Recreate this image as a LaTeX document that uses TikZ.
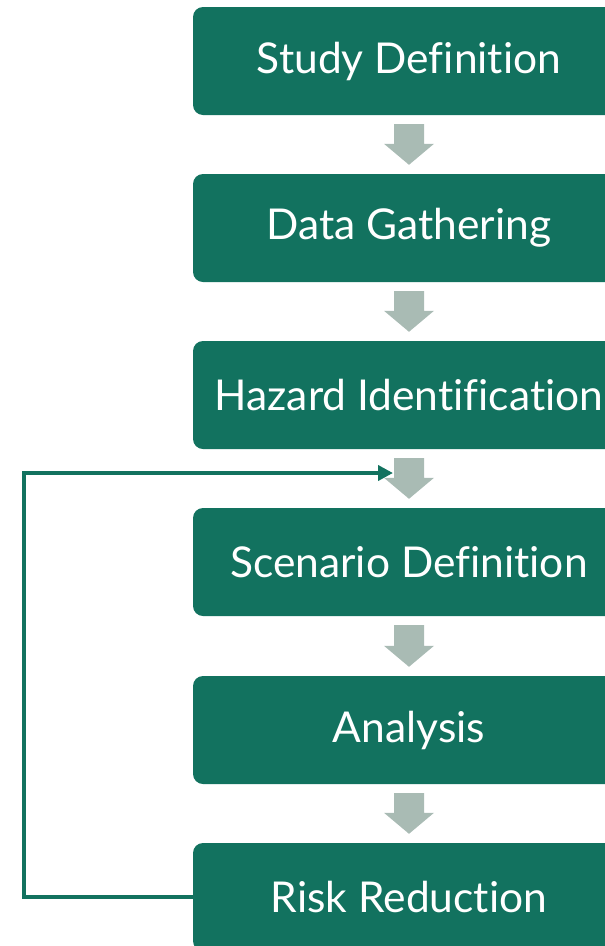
\documentclass[tikz,border=0pt]{standalone}
\usepackage{fontspec}
\setmainfont{Lato}[Ligatures=NoCommon]
\usetikzlibrary{calc,arrows.meta}
\definecolor{boxgreen}{HTML}{12725F}
\definecolor{arrowgray}{HTML}{A9BBB4}
\tikzset{
  stagebox/.style={fill=boxgreen, rounded corners=10pt, minimum width=432pt, minimum height=108pt, inner sep=0pt, text=white, font=\fontsize{42.5}{50}\selectfont},
  feedback/.style={draw=boxgreen, line width=4pt, -{Triangle[length=15pt,width=15pt]}},
  blockarrow/.style={fill=arrowgray}
}
\newcommand\blockarr[2]{%
  \fill[blockarrow] ($(#1.south)+(-15,9)$) -- ($(#1.south)+(15,9)$)
    -- ($(#2.north)+(15,-30)$) -- ($(#2.north)+(25,-30)$) -- ($(#2.north)+(0,-9)$)
    -- ($(#2.north)+(-25,-30)$) -- ($(#2.north)+(-15,-30)$) -- cycle;}
\begin{document}
\begin{tikzpicture}[x=1pt,y=-1pt]
\clip (0,0) rectangle (605,946);
\useasboundingbox (0,0) rectangle (605,946);
\node[stagebox] (s1) at (409,61) {Study Definition};
\node[stagebox] (s2) at (409,228) {Data Gathering};
\node[stagebox] (s3) at (409,395) {Hazard Identification};
\node[stagebox] (s4) at (409,562) {Scenario Definition};
\node[stagebox] (s5) at (409,730) {Analysis};
\node[stagebox] (s6) at (409,897) {Risk Reduction};
\blockarr{s1}{s2}
\blockarr{s2}{s3}
\blockarr{s3}{s4}
\blockarr{s4}{s5}
\blockarr{s5}{s6}
\coordinate (fbcorner) at (24,473);
\coordinate (fbend) at (393,473);
\draw[feedback] (s6.west) -| (fbcorner) -- (fbend);
\end{tikzpicture}
\end{document}
